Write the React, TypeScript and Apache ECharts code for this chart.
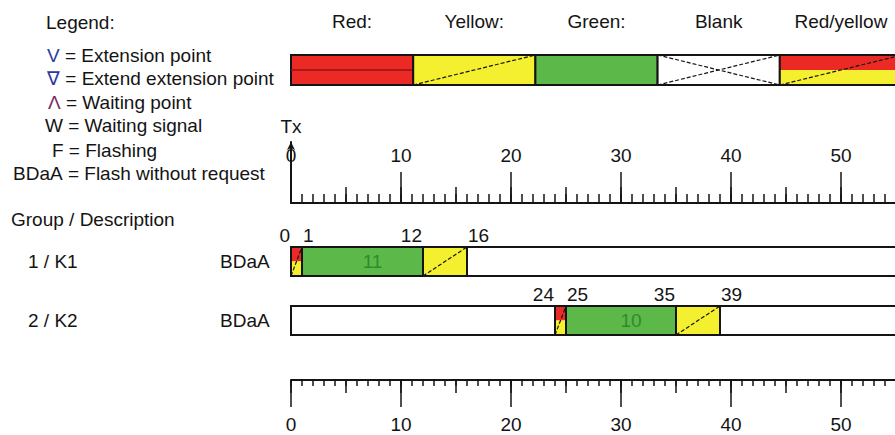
import React, { useEffect, useRef } from 'react';
import * as echarts from 'echarts';

// ---- data ----
const groups = ['1 / K1', '2 / K2'];
const descriptions = ['BDaA', 'BDaA'];
const redYellowStart = [0, 24];
const greenStart = [1, 25];
const yellowStart = [12, 35];
const yellowEnd = [16, 39];
const cycleEnd = [60, 60];
const axisMax = 60;
const majorStep = 10;
const midStep = 5;
const minorStep = 1;

const legendTitles = ['Red:', 'Yellow:', 'Green:', 'Blank', 'Red/yellow'];
const legendKinds = ['red', 'yellow', 'green', 'blank', 'redyellow'];

const keySymbols = ['V', '\u2207', '\u039B', 'W', 'F', 'BDaA'];
const keyMeanings = [
  'Extension point',
  'Extend extension point',
  'Waiting point',
  'Waiting signal',
  'Flashing',
  'Flash without request',
];

// ---- style ----
const FONT = '"Liberation Sans", Arial, sans-serif';
const FS = 19;
const INK = '#141414';
const RED = '#ec2a25';
const RED_DARK = '#8e1512';
const YELLOW = '#f4ef2f';
const GREEN = '#5cb848';
const GREEN_TEXT = '#2f8a2f';
const symbolColors = ['#2b3aa0', '#2b3aa0', '#7a2a5e', INK, INK, INK];
const keyX = [47, 47, 48, 45, 52, 13];
const keyY = [55, 78, 102, 125, 150, 173];

function phaseShapes(kind: string, x0: number, x1: number, y0: number, h: number): any[] {
  const w = x1 - x0;
  const yb = y0 + h;
  const border = { stroke: INK, lineWidth: 2 };
  const dash = { stroke: INK, lineWidth: 1.2, lineDash: [4, 2] };
  const out: any[] = [];
  if (kind === 'red') {
    out.push({ type: 'rect', shape: { x: x0, y: y0, width: w, height: h }, style: { fill: RED, ...border } });
    out.push({ type: 'line', shape: { x1: x0, y1: y0 + h / 2, x2: x1, y2: y0 + h / 2 }, style: { stroke: RED_DARK, lineWidth: 1.5 } });
  } else if (kind === 'yellow') {
    out.push({ type: 'rect', shape: { x: x0, y: y0, width: w, height: h }, style: { fill: YELLOW, ...border } });
    out.push({ type: 'line', shape: { x1: x0, y1: yb, x2: x1, y2: y0 }, style: dash });
  } else if (kind === 'green') {
    out.push({ type: 'rect', shape: { x: x0, y: y0, width: w, height: h }, style: { fill: GREEN, ...border } });
  } else if (kind === 'blank') {
    out.push({ type: 'rect', shape: { x: x0, y: y0, width: w, height: h }, style: { fill: '#fff', ...border } });
    out.push({ type: 'line', shape: { x1: x0, y1: yb, x2: x1, y2: y0 }, style: dash });
    out.push({ type: 'line', shape: { x1: x0, y1: y0, x2: x1, y2: yb }, style: dash });
  } else if (kind === 'redyellow') {
    out.push({ type: 'rect', shape: { x: x0, y: y0, width: w, height: h / 2 }, style: { fill: RED, stroke: 'none' } });
    out.push({ type: 'rect', shape: { x: x0, y: y0 + h / 2, width: w, height: h / 2 }, style: { fill: YELLOW, stroke: 'none' } });
    out.push({ type: 'line', shape: { x1: x0, y1: yb, x2: x1, y2: y0 }, style: dash });
    out.push({ type: 'rect', shape: { x: x0, y: y0, width: w, height: h }, style: { fill: 'none', ...border } });
  }
  return out;
}

function txt(text: string, x: number, y: number, align: string, extra: any = {}) {
  return {
    type: 'text',
    style: { text, x, y, align, verticalAlign: 'middle', fill: INK, fontSize: FS, fontFamily: FONT, ...extra },
  };
}

export default function App() {
  const ref = useRef<HTMLDivElement>(null);
  useEffect(() => {
    if (!ref.current) return;
    const chart = echarts.init(ref.current, null, { renderer: 'svg' });

    const rows = groups.map((_, i) => [i, redYellowStart[i], greenStart[i], yellowStart[i], yellowEnd[i], cycleEnd[i]]);

    const legendW = 122.2;
    const legendX0 = 291;
    const legendGraphics: any[] = [];
    legendKinds.forEach((k, i) => {
      const x0 = legendX0 + i * legendW;
      legendGraphics.push({ type: 'group', children: phaseShapes(k, x0, x0 + legendW, 55, 30) });
      legendGraphics.push(txt(legendTitles[i], x0 + legendW / 2, 21, 'center'));
    });

    const keyGraphics = keySymbols.map((s, i) => ({
      type: 'text',
      style: {
        text: `{s|${s}} = ${keyMeanings[i]}`,
        x: keyX[i],
        y: keyY[i],
        align: 'left',
        verticalAlign: 'middle',
        fill: INK,
        fontSize: FS,
        fontFamily: FONT,
        rich: { s: { fill: symbolColors[i], fontSize: FS, fontFamily: FONT } },
      },
    }));

    const labelStyle = { fontSize: FS, fontFamily: FONT, color: INK };
    const tickLine = { color: INK, width: 1.5 };

    // one ruler = several value axes sharing a grid: labels, major, mid, minor ticks
    const ruler = (gridIndex: number, position: string, lens: number[], labelMargin: number) => [
      {
        type: 'value', gridIndex, position, min: 0, max: axisMax, interval: majorStep,
        splitLine: { show: false },
        axisLine: { show: true, onZero: false, lineStyle: { color: INK, width: 2 } },
        axisTick: { show: false },
        axisLabel: { ...labelStyle, margin: labelMargin, verticalAlign: 'middle', showMaxLabel: false },
      },
      ...[majorStep, midStep, minorStep].map((step, k) => ({
        type: 'value', gridIndex, position, min: 0, max: axisMax, interval: step,
        splitLine: { show: false },
        axisLine: { show: false, onZero: false },
        axisTick: { show: true, length: lens[k], lineStyle: tickLine },
        axisLabel: { show: false },
      })),
    ];

    const option: any = {
      animation: false,
      grid: [
        { left: 291, top: 203, width: 660, height: 10, outerBoundsMode: 'none', containLabel: false },
        { left: 291, top: 232, width: 660, height: 118, outerBoundsMode: 'none', containLabel: false },
        { left: 291, top: 370, width: 660, height: 10, outerBoundsMode: 'none', containLabel: false },
        { left: 291, top: 142, width: 660, height: 61, outerBoundsMode: 'none', containLabel: false },
      ],
      xAxis: [
        ...ruler(0, 'top', [31, 16, 9], 48),
        ...ruler(2, 'bottom', [27, 13, 6], 44),
        { type: 'value', gridIndex: 1, position: 'bottom', min: 0, max: axisMax, show: false },
        { type: 'value', gridIndex: 3, position: 'bottom', min: 0, max: axisMax, show: false },
      ],
      yAxis: [
        { type: 'value', gridIndex: 0, show: false },
        {
          type: 'category', gridIndex: 1, position: 'left', data: descriptions, inverse: true,
          axisLine: { show: false }, axisTick: { show: false },
          axisLabel: { ...labelStyle, align: 'left', margin: 71 },
        },
        {
          type: 'category', gridIndex: 1, position: 'left', data: groups, inverse: true,
          axisLine: { show: false }, axisTick: { show: false },
          axisLabel: { ...labelStyle, align: 'left', margin: 263 },
        },
        { type: 'value', gridIndex: 2, show: false },
        {
          type: 'value', gridIndex: 3, position: 'left', min: 0, max: 1,
          axisLine: { show: true, onZero: false, symbol: ['none', 'arrow'], symbolSize: [6, 8], lineStyle: { color: INK, width: 2 } },
          axisTick: { show: false }, axisLabel: { show: false }, splitLine: { show: false },
          name: 'Tx', nameLocation: 'end', nameGap: 6, nameTextStyle: { ...labelStyle },
        },
      ],
      graphic: [
        txt('Legend:', 46, 22, 'left'),
        txt('Group / Description', 11, 219, 'left'),
        ...keyGraphics,
        ...legendGraphics,
      ],
      series: [
        {
          type: 'custom',
          xAxisIndex: 8,
          yAxisIndex: 1,
          clip: false,
          encode: { x: [1, 2, 3, 4, 5], y: 0 },
          data: rows,
          renderItem: (params: any, api: any) => {
            const row = api.value(0);
            const a = api.value(1), b = api.value(2), c = api.value(3), d = api.value(4), e = api.value(5);
            const pa = api.coord([a, row]);
            const pb = api.coord([b, row]);
            const pc = api.coord([c, row]);
            const pd = api.coord([d, row]);
            const pe = api.coord([e, row]);
            const h = 29;
            const top = pa[1] - h / 2;
            const z0 = api.coord([0, row]);
            const labY = top - 12;
            const children: any[] = [
              { type: 'rect', shape: { x: z0[0], y: top, width: pe[0] - z0[0], height: h }, style: { fill: '#fff', stroke: INK, lineWidth: 2 } },
              ...phaseShapes('redyellow', pa[0], pb[0], top, h),
              ...phaseShapes('green', pb[0], pc[0], top, h),
              ...phaseShapes('yellow', pc[0], pd[0], top, h),
              txt(String(c - b), (pb[0] + pc[0]) / 2 + 10, top + h / 2, 'center', { fill: GREEN_TEXT }),
              txt(String(a), pa[0] - 1, labY, 'right'),
              txt(String(b), pb[0] + 1, labY, 'left'),
              txt(String(c), pc[0] - 1, labY, 'right'),
              txt(String(d), pd[0] + 1, labY, 'left'),
            ];
            return { type: 'group', children };
          },
        },
      ],
    };
    chart.setOption(option);
    return () => chart.dispose();
  }, []);
  return <div ref={ref} style={{ position: 'absolute', left: 0, top: 0, width: 895, height: 435, background: '#fff' }} />;
}
